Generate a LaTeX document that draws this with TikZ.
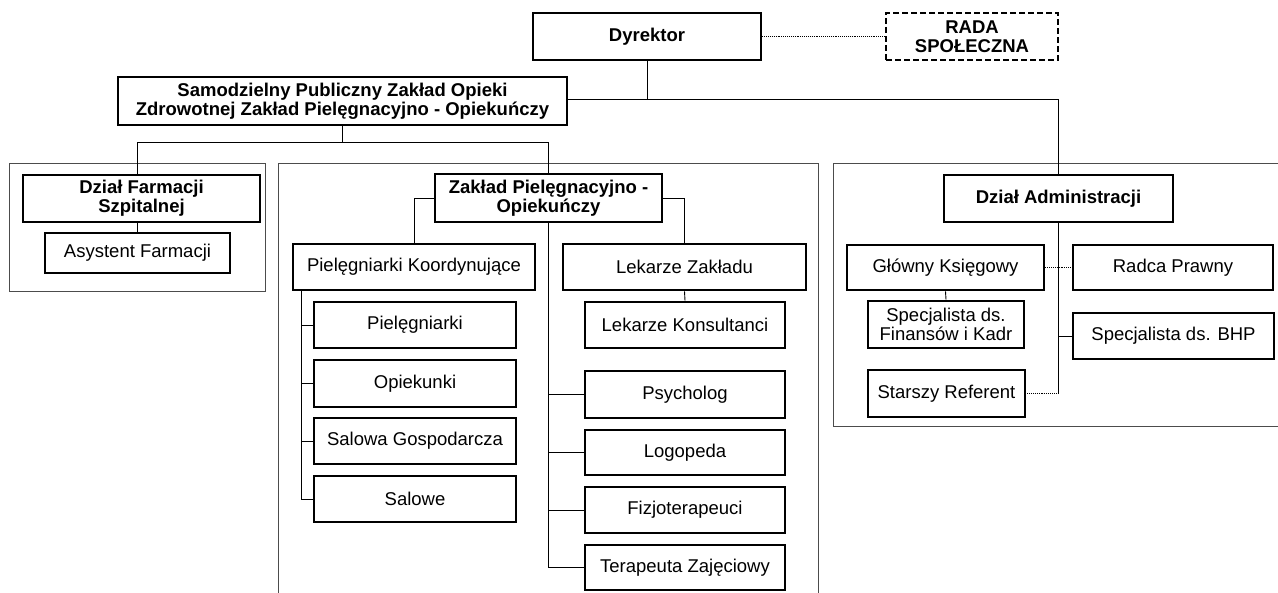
\documentclass[tikz,border=0pt]{standalone}
\usepackage{fontspec}
\setmainfont{Liberation Sans}
\begin{document}
\begin{tikzpicture}[x=1pt,y=-1pt,
  box/.style={draw=black, line width=2.6pt, fill=white, inner sep=0pt, align=center,
    font=\fontsize{18.5}{19}\selectfont},
  bbox/.style={box, font=\fontsize{18.5}{19}\selectfont\bfseries},
  conn/.style={draw=black, line width=0.9pt},
  dconn/.style={draw=black, line width=0.9pt, densely dotted},
  frame/.style={draw=black!70, line width=1pt}]
\useasboundingbox (0,0) rectangle (1278,593);
% frames
\draw[frame] (9,164) rectangle (265,292);
\draw[frame] (278,593) -- (278,164) -- (818,164) -- (818,593);
\draw[frame] (1278,164) -- (833,164) -- (833,427) -- (1278,427);
% top
\node[bbox, minimum width=228pt, minimum height=47pt] (dyr) at (647,36.5) {Dyrektor};
\node[bbox, dashed, dash pattern=on 6pt off 3pt, minimum width=172pt, minimum height=47pt] (rada) at (972,36.5) {RADA\\SPOŁECZNA};
\node[bbox, minimum width=449pt, minimum height=48pt] (spz) at (342.5,101) {Samodzielny Publiczny Zakład Opieki\\Zdrowotnej Zakład Pielęgnacyjno - Opiekuńczy};
% left
\node[bbox, minimum width=237pt, minimum height=47pt] (farm) at (141.5,198.5) {Dział Farmacji\\Szpitalnej};
\node[box, minimum width=185pt, minimum height=40pt] (asys) at (137.5,253) {Asystent Farmacji};
% middle
\node[bbox, minimum width=227pt, minimum height=48pt] (zpo) at (548.5,198) {Zakład Pielęgnacyjno -\\Opiekuńczy};
\node[box, minimum width=242pt, minimum height=46pt] (pk) at (414,267) {Pielęgniarki Koordynujące};
\node[box, minimum width=243pt, minimum height=46pt] (lz) at (684.5,267) {Lekarze Zakładu};
\node[box, minimum width=202pt, minimum height=46pt] (piel) at (415,325) {Pielęgniarki};
\node[box, minimum width=202pt, minimum height=47pt] (opie) at (415,383.5) {Opiekunki};
\node[box, minimum width=202pt, minimum height=46pt] (salg) at (415,441) {Salowa Gospodarcza};
\node[box, minimum width=202pt, minimum height=46pt] (sal) at (415,499) {Salowe};
\node[box, minimum width=200pt, minimum height=46pt] (lk) at (685,325) {Lekarze Konsultanci};
\node[box, minimum width=200pt, minimum height=47pt] (psy) at (685,394.5) {Psycholog};
\node[box, minimum width=200pt, minimum height=45pt] (logo) at (685,452.5) {Logopeda};
\node[box, minimum width=200pt, minimum height=46pt] (fiz) at (685,510) {Fizjoterapeuci};
\node[box, minimum width=200pt, minimum height=45pt] (ter) at (685,567.5) {Terapeuta Zajęciowy};
% right
\node[bbox, minimum width=229pt, minimum height=47pt] (da) at (1058.5,198.5) {Dział Administracji};
\node[box, minimum width=197pt, minimum height=45pt] (gk) at (945.5,267.5) {Główny Księgowy};
\node[box, minimum width=200pt, minimum height=45pt] (rp) at (1173,267.5) {Radca Prawny};
\node[box, minimum width=156pt, minimum height=47pt] (sfk) at (946,324.5) {Specjalista ds.\\Finansów i Kadr};
\node[box, minimum width=201pt, minimum height=46pt] (bhp) at (1173.5,336) {Specjalista ds. BHP};
\node[box, minimum width=157pt, minimum height=47pt] (sr) at (946.5,393.5) {Starszy Referent};
% junctions
\coordinate (j1) at (647,99);
\coordinate (j2) at (342.5,142);
\coordinate (j2l) at (137,142);
\coordinate (j2r) at (548.5,142);
\coordinate (pkv) at (301,290);
\coordinate (zv) at (548.5,222);
\coordinate (dav) at (1058.5,222);
% connectors
\draw[dconn] (dyr.east) -- (rada.west);
\draw[conn] (dyr.south) -- (j1);
\draw[conn] (spz.east |- j1) -- (j1 -| da.north) -- (da.north);
\draw[conn] (spz.south) -- (j2);
\draw[conn] (j2l |- farm.north) -- (j2l) -- (j2r) -- (zpo.north);
\draw[conn] (j2l |- farm.south) -- (j2l |- asys.north);
\draw[conn] (zpo.west) -- (zpo.west -| pk.north) -- (pk.north);
\draw[conn] (zpo.east) -- (zpo.east -| lz.north) -- (lz.north);
\draw[conn] (lz.south) -- (lk.north);
\draw[conn] (pkv) -- (pkv |- sal.west) -- (sal.west);
\draw[conn] (pkv |- piel.west) -- (piel.west);
\draw[conn] (pkv |- opie.west) -- (opie.west);
\draw[conn] (pkv |- salg.west) -- (salg.west);
\draw[conn] (zpo.south) -- (zv |- ter.west) -- (ter.west);
\draw[conn] (zv |- psy.west) -- (psy.west);
\draw[conn] (zv |- logo.west) -- (logo.west);
\draw[conn] (zv |- fiz.west) -- (fiz.west);
\draw[conn] (da.south) -- (dav |- sr.east);
\draw[dconn] (dav |- sr.east) -- (sr.east);
\draw[dconn] (gk.east) -- (rp.west);
\draw[conn] (dav |- bhp.west) -- (bhp.west);
\draw[conn] (gk.south) -- (sfk.north);
\end{tikzpicture}
\end{document}
